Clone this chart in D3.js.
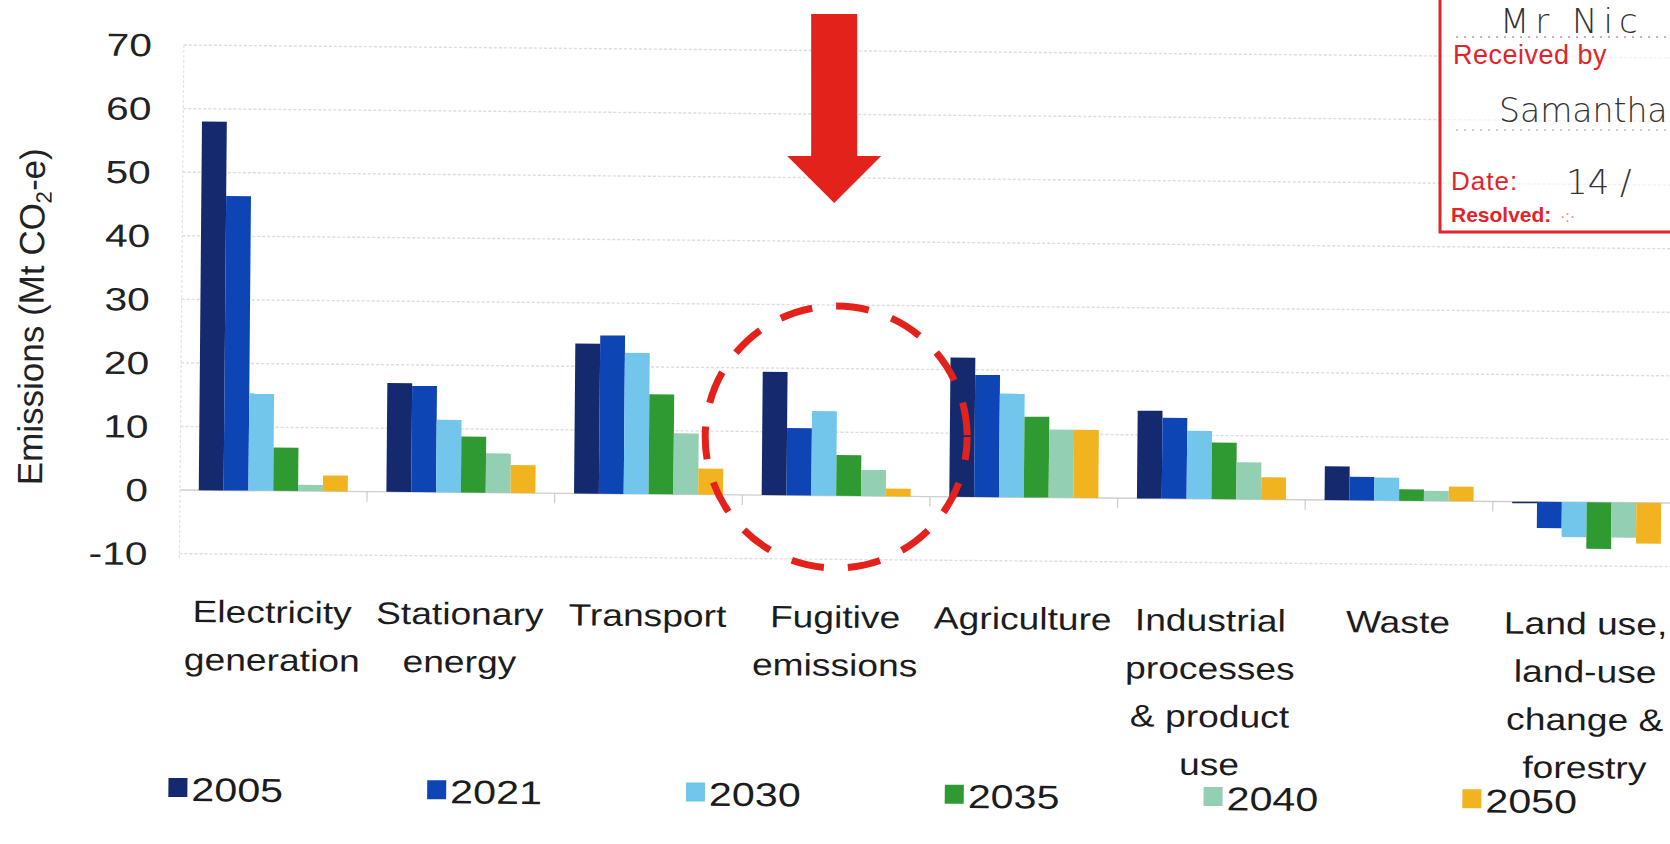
<!DOCTYPE html>
<html>
<head>
<meta charset="utf-8">
<script src="https://cdn.jsdelivr.net/npm/d3@7"></script>
<style>
  html, body { margin: 0; padding: 0; background: #fff; }
  svg { display: block; }
</style>
</head>
<body>
<svg id="chart" width="1670" height="844"></svg>
<script>
// ---------- data ----------
const categories = [
  "Electricity generation", "Stationary energy", "Transport", "Fugitive emissions",
  "Agriculture", "Industrial processes & product use", "Waste",
  "Land use, land-use change & forestry"
];
const categoryLines = [
  ["Electricity", "generation"],
  ["Stationary", "energy"],
  ["Transport"],
  ["Fugitive", "emissions"],
  ["Agriculture"],
  ["Industrial", "processes", "& product", "use"],
  ["Waste"],
  ["Land use,", "land-use", "change &", "forestry"]
];
const years = ["2005", "2021", "2030", "2035", "2040", "2050"];
const values2005 = [58.0, 17.1, 23.6, 19.4, 21.9, 13.8, 5.3, -0.2];
const values2021 = [46.3, 16.7, 24.9, 10.6, 19.2, 12.7, 3.7, -4.1];
const values2030 = [15.3, 11.4, 22.2, 13.3, 16.3, 10.7, 3.6, -5.5];
const values2035 = [6.8, 8.8, 15.7, 6.4, 12.7, 8.9, 1.8, -7.3];
const values2040 = [1.0, 6.2, 9.6, 4.1, 10.7, 5.8, 1.6, -5.5];
const values2050 = [2.5, 4.4, 4.1, 1.2, 10.7, 3.5, 2.3, -6.4];
const yTicks = [70, 60, 50, 40, 30, 20, 10, 0, -10];
const yTitle = "Emissions (Mt CO";
const colors = ["#14296e", "#0d45b5", "#72c6ec", "#2f9a32", "#93cfb3", "#f1b320"];

const seriesValues = [values2005, values2021, values2030, values2035, values2040, values2050];
const table = categories.map((c, i) => ({
  category: c,
  values: years.map((y, j) => ({ year: y, value: seriesValues[j][i] }))
}));

// ---------- scales ----------
const svg = d3.select("#chart");
const x = d3.scaleBand().domain(categories).range([180, 1680]).paddingInner(0.206).paddingOuter(0.1);
const xi = d3.scaleBand().domain(years).range([0, x.bandwidth()]);
const y = d3.scaleLinear().domain([-10, 70]).range([553.6, 45]);
const color = d3.scaleOrdinal().domain(years).range(colors);

const root = svg.append("g").attr("transform", "rotate(0.5,180,490)");

// gridlines
root.append("g").selectAll("line").data(yTicks).join("line")
  .attr("x1", 180).attr("x2", 1720)
  .attr("y1", d => y(d)).attr("y2", d => y(d))
  .attr("stroke", d => d === 0 ? "#cfcfcf" : "#dddddd")
  .attr("stroke-width", 1.4)
  .attr("stroke-dasharray", d => d === 0 ? null : "3,2");

// left axis faint line
root.append("line")
  .attr("x1", 180).attr("x2", 180).attr("y1", y(70)).attr("y2", y(-10) + 6)
  .attr("stroke", "#e4e4e4").attr("stroke-width", 1.2).attr("stroke-dasharray", "3,2");

// small ticks between groups below 0
const step = x.step();
root.append("g").selectAll("line").data(categories.slice(1)).join("line")
  .attr("x1", d => x(d) - step * x.paddingInner() / 2)
  .attr("x2", d => x(d) - step * x.paddingInner() / 2)
  .attr("y1", y(0)).attr("y2", y(0) + 10)
  .attr("stroke", "#cccccc").attr("stroke-width", 1.2);

// bars
const groups = root.append("g").selectAll("g").data(table).join("g")
  .attr("transform", d => `translate(${x(d.category)},0)`);
groups.selectAll("rect").data(d => d.values).join("rect")
  .attr("x", d => xi(d.year))
  .attr("width", xi.bandwidth())
  .attr("y", d => y(Math.max(0, d.value)))
  .attr("height", d => Math.max(1.5, Math.abs(y(d.value) - y(0))))
  .attr("fill", d => color(d.year));

// category labels
const catG = root.append("g").selectAll("g").data(table).join("g")
  .attr("transform", d => `translate(${x(d.category) + x.bandwidth() / 2},622) scale(1.2,1)`);
catG.append("text")
  .attr("text-anchor", "middle")
  .attr("font-family", "Liberation Sans, Arial, sans-serif")
  .attr("font-size", 31)
  .attr("fill", "#1c1c1c")
  .selectAll("tspan").data((d, i) => categoryLines[i]).join("tspan")
  .attr("x", 0).attr("dy", (d, i) => i === 0 ? 0 : 48)
  .text(d => d);

// y tick labels
root.append("g").selectAll("g").data(yTicks).join("g")
  .attr("transform", d => `translate(148,${y(d) + 11.5}) scale(1.27,1)`)
  .append("text")
  .attr("text-anchor", "end")
  .attr("font-family", "Liberation Sans, Arial, sans-serif")
  .attr("font-size", 32)
  .attr("fill", "#222")
  .text(d => d);

// y title
const yt = root.append("text")
  .attr("transform", "translate(42,318) rotate(-90)")
  .attr("text-anchor", "middle")
  .attr("font-family", "Liberation Sans, Arial, sans-serif")
  .attr("font-size", 35)
  .attr("fill", "#222");
yt.append("tspan").text(yTitle);
yt.append("tspan").attr("font-size", 22).attr("dy", 7).text("2");
yt.append("tspan").attr("dy", -7).text("-e)");

// legend
const lx = d3.scaleLinear().domain([0, 5]).range([171, 1465]);
const leg = root.append("g").selectAll("g").data(years).join("g")
  .attr("transform", (d, i) => `translate(${lx(i)},778)`);
leg.append("rect").attr("width", 19).attr("height", 19).attr("fill", d => color(d));
leg.append("g").attr("transform", "translate(23,23) scale(1.25,1)")
  .append("text")
  .attr("font-family", "Liberation Sans, Arial, sans-serif")
  .attr("font-size", 33)
  .attr("fill", "#1c1c1c")
  .text(d => d);

// ---------- annotations ----------
const red = "#e3221b";
const fcx = x(categories[3]) + x.bandwidth() / 2;
// dashed circle
svg.append("circle")
  .attr("cx", fcx).attr("cy", 437).attr("r", 131)
  .attr("fill", "none").attr("stroke", red).attr("stroke-width", 7)
  .attr("stroke-dasharray", "33,24").attr("stroke-dashoffset", 10);
// arrow
const ax = fcx - 2;
svg.append("path")
  .attr("d", `M${ax - 23},14 L${ax + 23},14 L${ax + 23},156 L${ax + 47},156 L${ax},203 L${ax - 47},156 L${ax - 23},156 Z`)
  .attr("fill", red);

// stamp
const stampRed = "#e2232b";
const st = svg.append("g");
st.append("rect").attr("x", 1440).attr("y", -10).attr("width", 300).attr("height", 242)
  .attr("fill", "#fff").attr("fill-opacity", 0.6).attr("stroke", stampRed).attr("stroke-width", 3);
st.append("line").attr("x1", 1456).attr("x2", 1670).attr("y1", 37).attr("y2", 37)
  .attr("stroke", "#d98a8a").attr("stroke-width", 1.5).attr("stroke-dasharray", "2,6");
st.append("line").attr("x1", 1456).attr("x2", 1670).attr("y1", 130).attr("y2", 130)
  .attr("stroke", "#bbbbbb").attr("stroke-width", 1.5).attr("stroke-dasharray", "2,6");
st.append("text").attr("x", 1500).attr("y", 33).attr("font-family", "DejaVu Sans, sans-serif")
  .attr("font-weight", 200).attr("font-size", 34).attr("letter-spacing", 6).attr("fill", "#333").text("Mr Nic");
st.append("text").attr("x", 1453).attr("y", 64).attr("font-family", "Liberation Sans Narrow, Liberation Sans, sans-serif")
  .attr("font-size", 27).attr("letter-spacing", 0.5).attr("fill", stampRed).text("Received by");
st.append("text").attr("x", 1499).attr("y", 122).attr("font-family", "DejaVu Sans, sans-serif")
  .attr("font-weight", 200).attr("font-size", 33).attr("fill", "#333").text("Samantha");
st.append("text").attr("x", 1451).attr("y", 190).attr("font-family", "Liberation Sans Narrow, Liberation Sans, sans-serif")
  .attr("font-size", 26).attr("letter-spacing", 1).attr("fill", stampRed).text("Date:");
st.append("text").attr("x", 1566).attr("y", 194).attr("font-family", "DejaVu Sans, sans-serif")
  .attr("font-weight", 200).attr("font-size", 34).attr("fill", "#333").text("14 /");
st.append("text").attr("x", 1451).attr("y", 222).attr("font-family", "Liberation Sans, sans-serif")
  .attr("font-weight", "bold").attr("font-size", 21).attr("fill", stampRed).text("Resolved: ");
st.append("text").attr("x", 1560).attr("y", 222).attr("font-family", "Liberation Sans, sans-serif")
  .attr("font-size", 16).attr("fill", "#e88").text("·:·");
</script>
</body>
</html>
